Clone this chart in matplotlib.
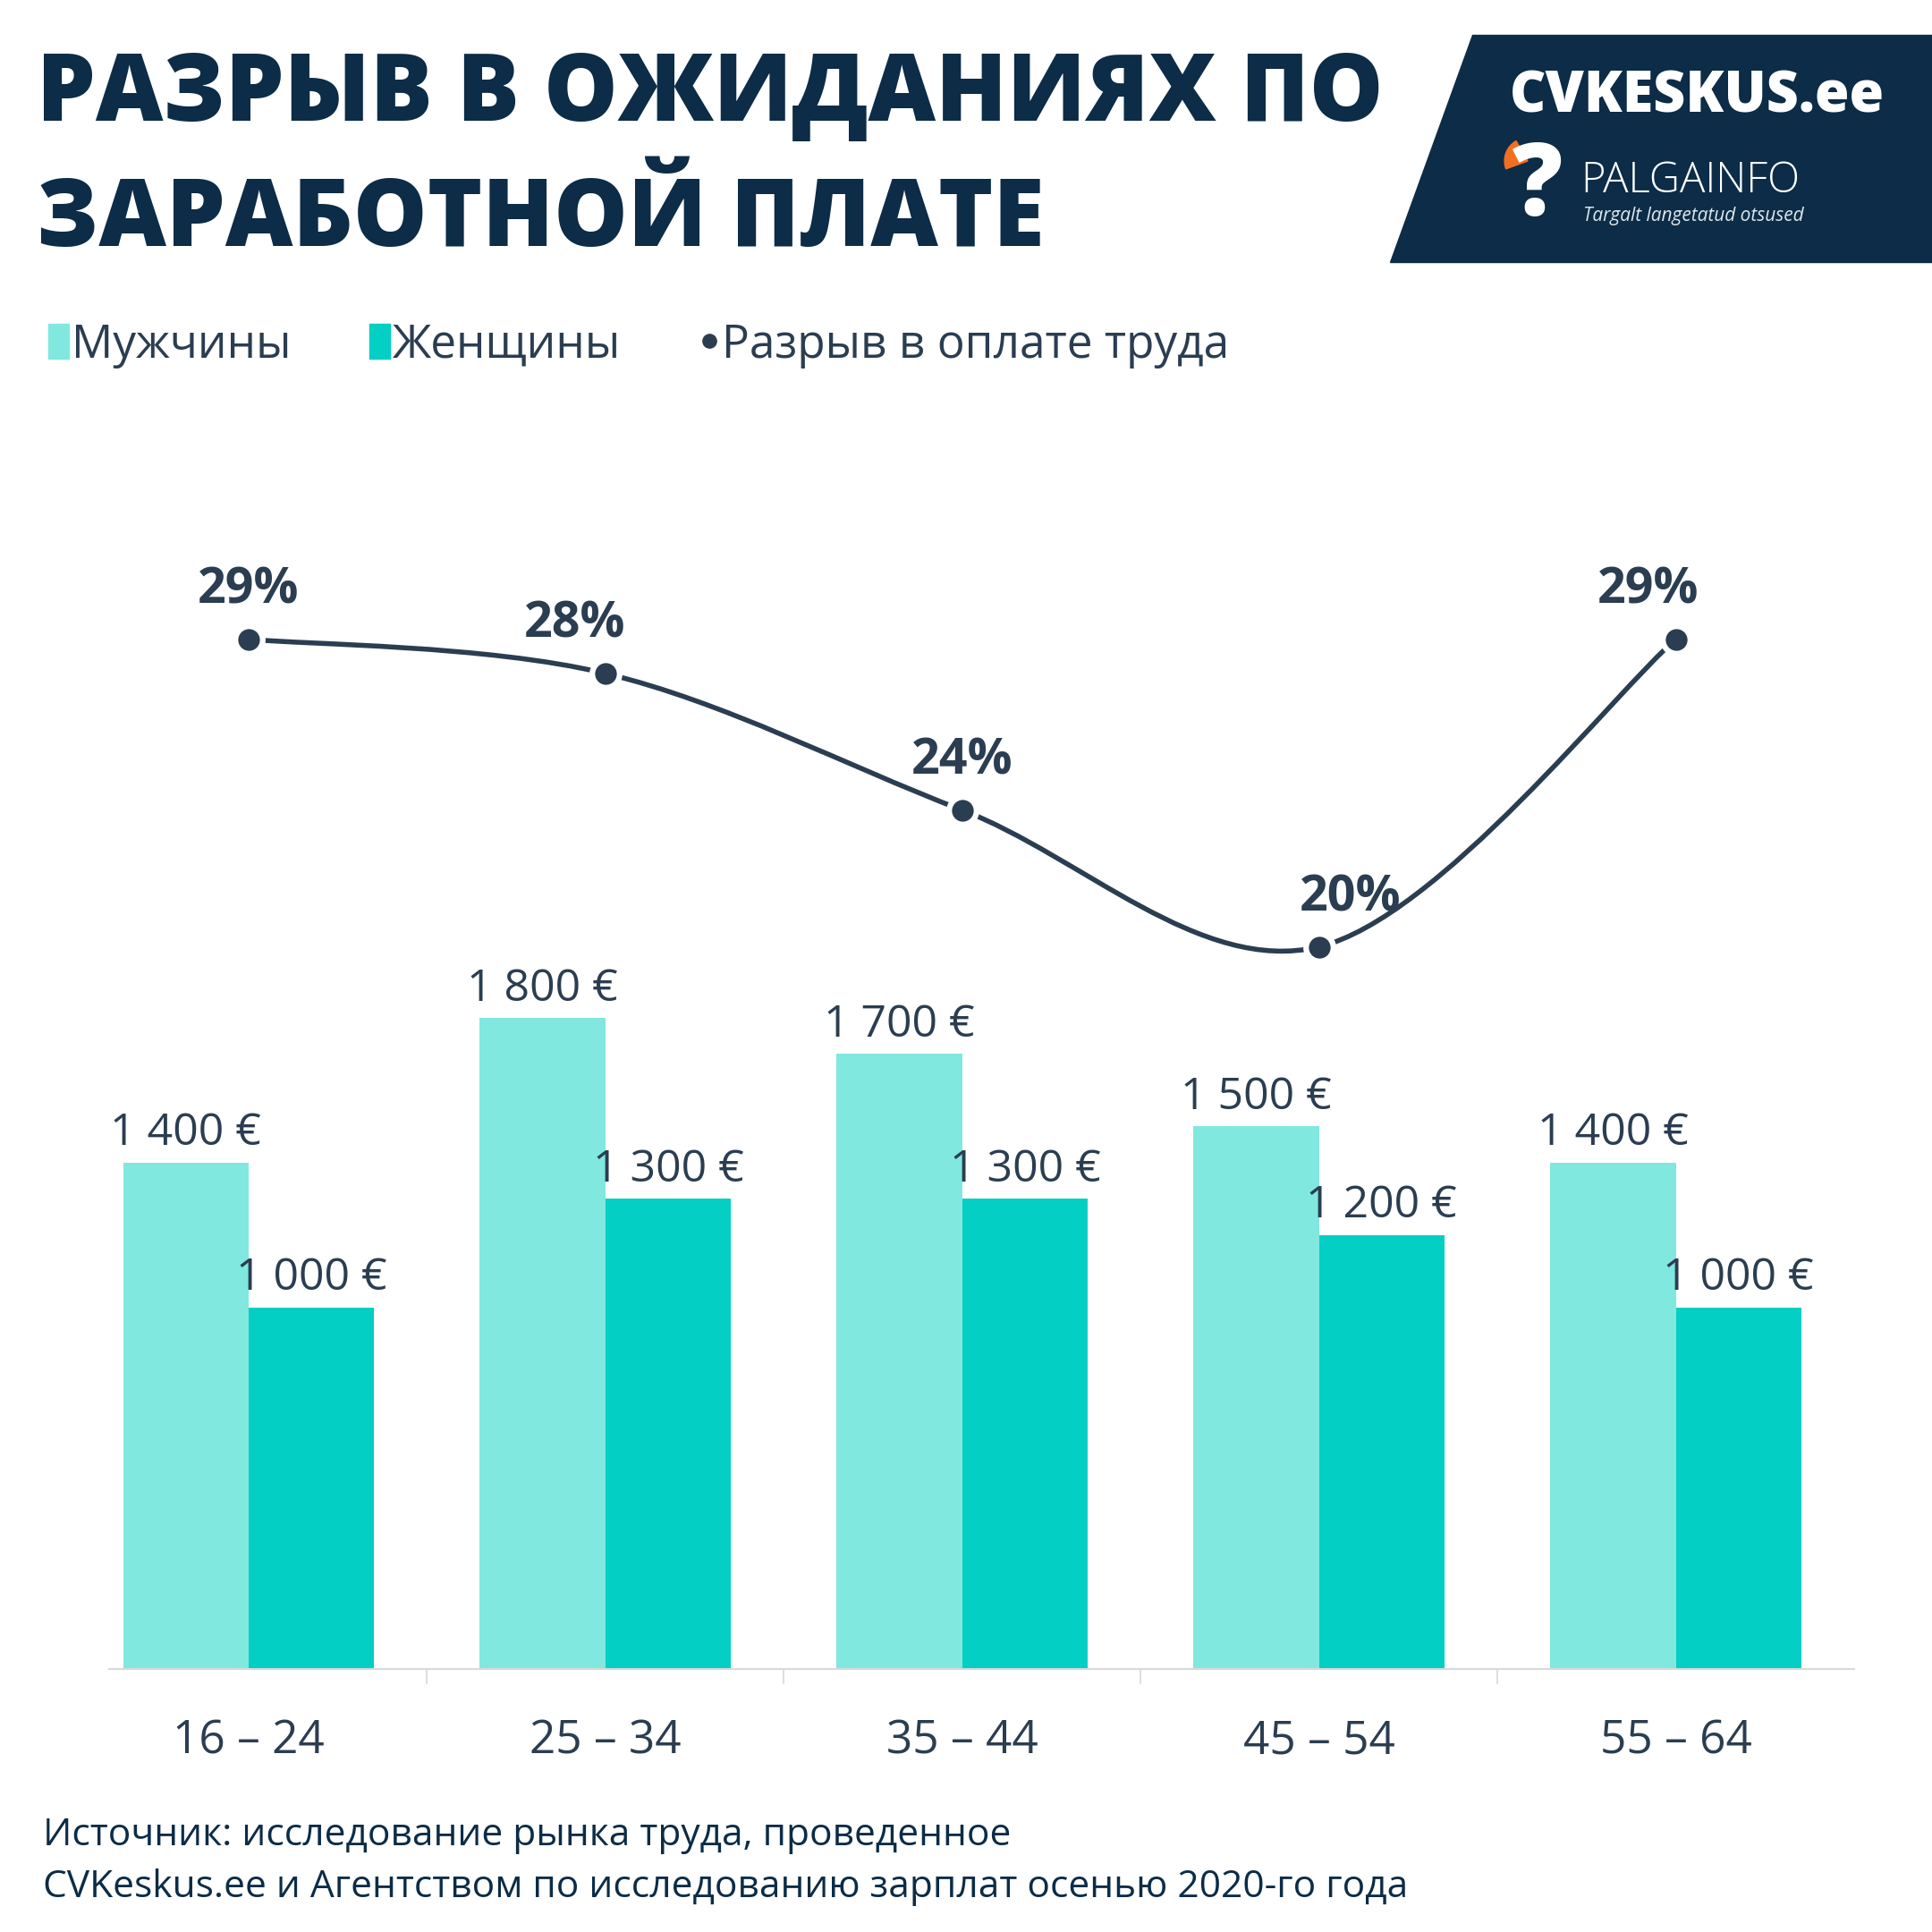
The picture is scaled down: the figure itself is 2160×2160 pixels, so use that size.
import matplotlib
matplotlib.use("Agg")
import matplotlib.pyplot as plt
from matplotlib.path import Path
from matplotlib.patches import PathPatch, Polygon, Patch, Wedge
from matplotlib.lines import Line2D
import numpy as np

# data
ages = ["16 – 24", "25 – 34", "35 – 44", "45 – 54", "55 – 64"]
men = [1400, 1800, 1700, 1500, 1400]
women = [1000, 1300, 1300, 1200, 1000]
gap = [29, 28, 24, 20, 29]

men_color = "#80e8df"
women_color = "#03cfc4"
text_color = "#2b3d51"
navy = "#0c2c47"

plt.rcParams['font.family'] = ['Open Sans', 'DejaVu Sans']

fig = plt.figure(figsize=(21.6, 21.6), dpi=100)

# main bar axes
ax = fig.add_axes([78.5 / 2160, 1 - 1866 / 2160, (2073 - 78.5) / 2160, 1266 / 2160])
x = np.arange(len(ages))
w = 0.352
bars_m = ax.bar(x - w / 2, men, w, color=men_color)
bars_w = ax.bar(x + w / 2, women, w, color=women_color)
ax.set_xlim(-0.5, 4.5)
ax.set_ylim(0, 3130)

for b, v in zip(list(bars_m) + list(bars_w), men + women):
    ax.annotate(f"{v:,}".replace(",", " ") + " €",
                (b.get_x() + b.get_width() / 2, b.get_height()),
                xytext=(0, 14), textcoords="offset points",
                ha="center", va="baseline", fontsize=36, color=text_color)

for s in ["top", "right", "left"]:
    ax.spines[s].set_visible(False)
ax.spines["bottom"].set_color("#d9d9d9")
ax.spines["bottom"].set_linewidth(1.5)
ax.spines["bottom"].set_bounds(-0.39, 4.5)
ax.set_yticks([])
ax.set_xticks(x)
ax.set_xticklabels(ages, fontsize=37, color=text_color)
ax.tick_params(axis="x", which="major", length=0, pad=40)
ax.set_xticks([0.5, 1.5, 2.5, 3.5], minor=True)
ax.tick_params(axis="x", which="minor", length=12, width=1.2, color="#d9d9d9")

# gap line on its own scale
ax2 = ax.twinx()
ax2.set_ylim(-1.13, 32.0)
ax2.axis("off")

# smooth curve like excel (catmull-rom as bezier)
pts = np.column_stack([x, gap]).astype(float)
ext = np.vstack([pts[0], pts, pts[-1]])
verts = [tuple(pts[0])]
codes = [Path.MOVETO]
for i in range(len(pts) - 1):
    p0, p1, p2, p3 = ext[i], ext[i + 1], ext[i + 2], ext[i + 3]
    c1 = p1 + (p2 - p0) / 6
    c2 = p2 - (p3 - p1) / 6
    verts += [tuple(c1), tuple(c2), tuple(p2)]
    codes += [Path.CURVE4] * 3
ax2.add_patch(PathPatch(Path(verts, codes), facecolor="none", edgecolor=text_color, lw=4))
ax2.plot(x, gap, "o", color=text_color, markersize=22, markeredgecolor="white",
         markeredgewidth=4.5, zorder=5)

label_dx = [0, -25, 0, 25, -22]
for xi, g, dx in zip(x, gap, label_dx):
    ax2.annotate(f"{g}%", (xi, g), xytext=(dx, 29), textcoords="offset points",
                 ha="center", va="baseline", fontsize=40, fontweight="bold",
                 color=text_color)

# title
fig.text(41 / 2160, 1 - 107 / 2160, "РАЗРЫВ В ОЖИДАНИЯХ ПО", fontsize=75,
         fontweight="heavy", color=navy, va="center", ha="left")
fig.text(41 / 2160, 1 - 248 / 2160, "ЗАРАБОТНОЙ ПЛАТЕ", fontsize=75,
         fontweight="heavy", color=navy, va="center", ha="left")

# logo box
box = Polygon([(1646 / 2160, 1 - 39 / 2160), (1.0, 1 - 39 / 2160),
               (1.0, 1 - 293 / 2160), (1554 / 2160, 1 - 293 / 2160)],
              closed=True, transform=fig.transFigure, color=navy)
fig.patches.append(box)
fig.text(1897 / 2160, 1 - 108 / 2160, "CVKESKUS.ee", fontsize=45, fontweight="heavy",
         color="white", ha="center", va="center")
fig.text(1767 / 2160, 1 - 203 / 2160, "PALGAINFO", fontsize=34, fontweight="light",
         color="white", ha="left", va="center")
fig.text(1770 / 2160, 1 - 242 / 2160, "Targalt langetatud otsused", fontsize=15,
         style="italic", color="#dfe6ec", ha="left", va="center")
fig.text(1718 / 2160, 1 - 212 / 2160, "?", fontsize=80, fontweight="heavy",
         color="white", ha="center", va="center")
fig.patches.append(Wedge((1708 / 2160, 1 - 180 / 2160), 0.012, 120, 200,
                         transform=fig.transFigure, color="#f26f21"))

# legend
handles = [Patch(color=men_color), Patch(color=women_color),
           Line2D([], [], marker="o", color=text_color, lw=0, markersize=11)]
fig.legend(handles, ["Мужчины", "Женщины", "Разрыв в оплате труда"],
           loc="center left", bbox_to_anchor=(8 / 2160, 1 - 386 / 2160),
           ncol=3, frameon=False, fontsize=37, handlelength=0.45, handleheight=0.8,
           handletextpad=0.05, columnspacing=1.7, labelcolor=text_color)

# source
fig.text(48 / 2160, 1 - 2052 / 2160, "Источник: исследование рынка труда, проведенное",
         fontsize=30.6, color=navy, va="center", ha="left")
fig.text(48 / 2160, 1 - 2110 / 2160,
         "CVKeskus.ee и Агентством по исследованию зарплат осенью 2020-го года",
         fontsize=30.6, color=navy, va="center", ha="left")

fig.savefig("out.png", dpi=100)
